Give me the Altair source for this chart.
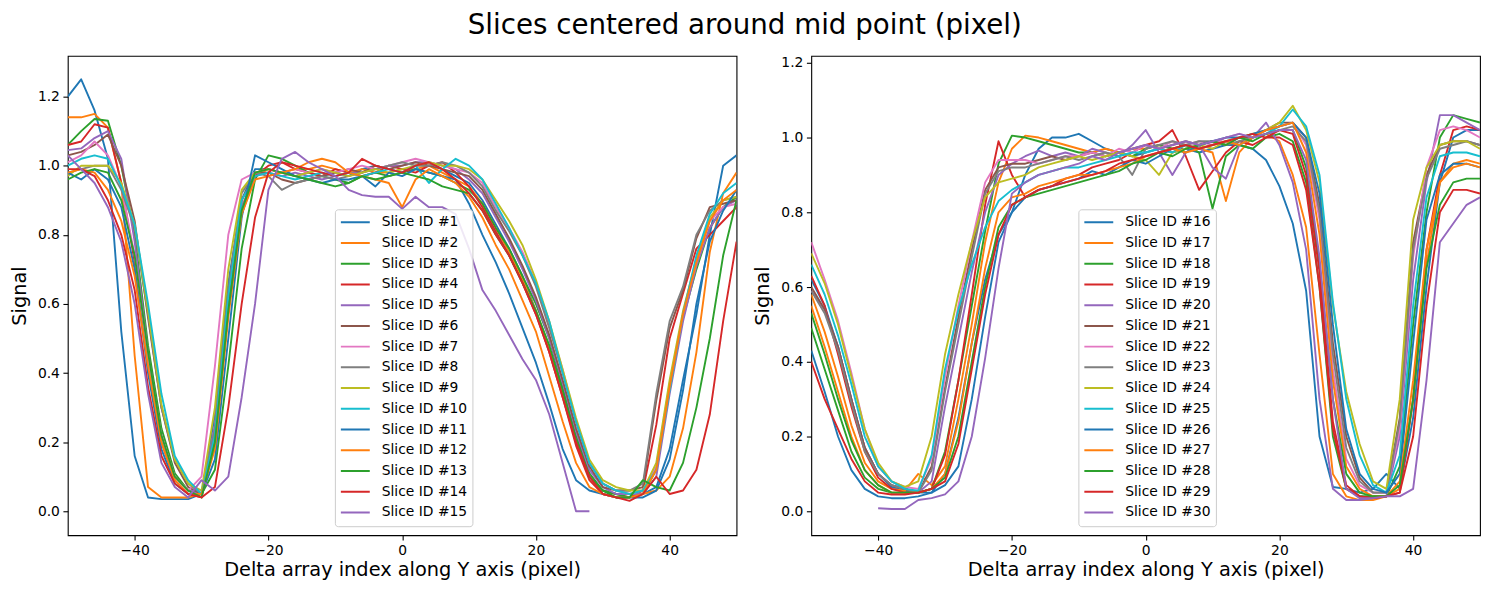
import altair as alt
import pandas as pd

X = [-50, -48, -46, -44, -42, -40, -38, -36, -34, -32,
     -30, -28, -26, -24, -22, -20, -18, -16, -14, -12,
     -10, -8, -6, -4, -2, 0, 2, 4, 6, 8,
     10, 12, 14, 16, 18, 20, 22, 24, 26, 28,
     30, 32, 34, 36, 38, 40, 42, 44, 46, 48, 50]

N = None

# ---- left panel: Slice ID #1 .. #15 ----
S01 = [1.20, 1.25, 1.16, 1.02, 0.52, 0.16, 0.04, 0.035, 0.035, 0.035,
       0.05, 0.28, 0.66, 0.90, 0.99, 0.99, 0.98, 0.97, 0.98, 0.97,
       0.98, 0.97, 0.99, 1.00, 0.99, 0.98, 1.00, 1.01, 0.99, 0.97,
       0.95, 0.90, 0.83, 0.76, 0.68, 0.58, 0.47, 0.34, 0.20, 0.10,
       0.06, 0.05, 0.05, 0.05, 0.07, 0.18, 0.38, 0.57, 0.80, 1.00, 1.03]
S02 = [1.14, 1.14, 1.15, 1.11, 0.95, 0.45, 0.07, 0.04, 0.04, 0.04,
       0.05, 0.22, 0.60, 0.88, 0.97, 0.99, 0.98, 0.99, 0.99, 1.00,
       0.99, 0.98, 0.99, 0.98, 0.98, 0.99, 0.99, 1.00, 0.98, 0.96,
       0.94, 0.89, 0.82, 0.75, 0.67, 0.58, 0.47, 0.34, 0.20, 0.10,
       0.06, 0.05, 0.04, 0.05, 0.06, 0.10, 0.24, 0.46, 0.75, 0.92, 0.98]
S03 = [1.06, 1.10, 1.135, 1.13, 1.00, 0.80, 0.48, 0.24, 0.11, 0.06,
       0.05, 0.12, 0.42, 0.76, 0.96, 1.03, 1.02, 1.00, 0.98, 0.97,
       0.96, 0.95, 0.97, 0.98, 0.97, 0.98, 0.99, 0.98, 0.97, 0.95,
       0.93, 0.89, 0.82, 0.76, 0.68, 0.60, 0.50, 0.36, 0.22, 0.11,
       0.06, 0.05, 0.04, 0.05, 0.12, 0.36, 0.56, 0.70, 0.82, 0.88, 0.91]
S04 = [1.06, 1.07, 1.12, 1.11, 0.95, 0.72, 0.44, 0.20, 0.09, 0.05,
       0.04, 0.20, 0.58, 0.86, 0.97, 1.00, 1.01, 0.99, 0.98, 0.97,
       0.99, 0.98, 0.97, 0.98, 1.00, 0.99, 0.98, 1.00, 1.01, 0.98,
       0.94, 0.88, 0.81, 0.74, 0.66, 0.57, 0.46, 0.33, 0.19, 0.09,
       0.05, 0.04, 0.04, 0.06, 0.25, 0.50, 0.63, 0.76, 0.80, 0.84, 0.88]
S05 = [1.045, 1.05, 1.08, 1.10, 1.02, 0.78, 0.46, 0.22, 0.10, 0.06,
       0.05, 0.25, 0.62, 0.88, 0.97, 0.98, 0.97, 0.98, 0.97, 0.96,
       0.97, 0.98, 0.98, 0.99, 1.00, 1.00, 1.01, 1.01, 1.00, 0.99,
       0.96, 0.92, 0.85, 0.78, 0.70, 0.61, 0.50, 0.37, 0.23, 0.12,
       0.07, 0.05, 0.05, 0.05, 0.10, 0.34, 0.55, 0.71, 0.82, 0.88, 0.90]
S06 = [1.03, 1.04, 1.06, 1.09, 1.00, 0.84, 0.56, 0.30, 0.14, 0.07,
       0.05, 0.22, 0.62, 0.90, 0.98, 0.98, 0.96, 0.95, 0.96, 0.97,
       0.98, 0.99, 0.98, 1.00, 0.99, 1.00, 1.01, 1.00, 0.99, 0.98,
       0.97, 0.93, 0.86, 0.79, 0.71, 0.62, 0.51, 0.38, 0.24, 0.13,
       0.07, 0.06, 0.06, 0.07, 0.32, 0.53, 0.64, 0.79, 0.88, 0.89, 0.90]
S07 = [1.01, 1.03, 1.07, 1.03, 0.94, 0.74, 0.44, 0.22, 0.10, 0.06,
       0.10, 0.42, 0.80, 0.96, 0.98, 0.99, 0.98, 0.99, 0.98, 0.99,
       0.98, 0.99, 1.00, 0.99, 1.00, 1.01, 1.02, 1.01, 1.00, 0.99,
       0.98, 0.95, 0.88, 0.82, 0.75, 0.66, 0.54, 0.41, 0.26, 0.14,
       0.08, 0.06, 0.05, 0.06, 0.13, 0.37, 0.57, 0.72, 0.84, 0.88, 0.89]
S08 = [0.98, 0.99, 1.00, 1.00, 0.93, 0.82, 0.57, 0.30, 0.15, 0.08,
       0.05, 0.24, 0.64, 0.92, 0.98, 0.97, 0.93, 0.95, 0.96, 0.97,
       0.96, 0.97, 0.98, 0.99, 1.00, 1.01, 1.00, 1.00, 1.01, 1.00,
       0.98, 0.94, 0.87, 0.81, 0.74, 0.65, 0.53, 0.40, 0.26, 0.14,
       0.08, 0.06, 0.06, 0.08, 0.34, 0.55, 0.65, 0.80, 0.87, 0.90, 0.91]
S09 = [0.97, 1.00, 1.00, 1.00, 0.95, 0.83, 0.58, 0.31, 0.15, 0.08,
       0.06, 0.30, 0.70, 0.93, 0.98, 0.99, 0.98, 0.97, 0.98, 0.99,
       0.98, 0.97, 0.98, 0.99, 0.98, 0.99, 1.00, 1.01, 1.00, 1.00,
       0.99, 0.96, 0.90, 0.84, 0.77, 0.67, 0.55, 0.41, 0.27, 0.15,
       0.09, 0.07, 0.06, 0.06, 0.14, 0.38, 0.58, 0.73, 0.85, 0.90, 0.91]
S10 = [1.00, 1.02, 1.03, 1.02, 0.94, 0.83, 0.60, 0.34, 0.16, 0.09,
       0.05, 0.22, 0.62, 0.90, 0.97, 0.98, 0.97, 0.96, 0.97, 0.98,
       0.97, 0.98, 0.97, 0.98, 0.99, 0.98, 1.00, 0.95, 0.99, 1.02,
       1.00, 0.96, 0.89, 0.82, 0.74, 0.66, 0.55, 0.40, 0.26, 0.14,
       0.08, 0.06, 0.05, 0.06, 0.12, 0.35, 0.57, 0.74, 0.86, 0.92, 0.95]
S11 = [0.98, 0.96, 0.99, 0.96, 0.88, 0.70, 0.40, 0.18, 0.08, 0.05,
       0.05, 0.15, 0.50, 0.85, 1.03, 1.01, 0.99, 0.97, 0.96, 0.95,
       0.96, 0.96, 0.97, 0.94, 0.98, 0.97, 0.99, 0.98, 0.97, 0.96,
       0.89, 0.80, 0.72, 0.63, 0.53, 0.43, 0.31, 0.18, 0.09, 0.06,
       0.05, 0.04, 0.04, 0.04, 0.06, 0.15, 0.35, 0.60, 0.78, 0.87, 0.93]
S12 = [0.98, 0.99, 0.98, 0.93, 0.84, 0.68, 0.42, 0.20, 0.09, 0.05,
       0.05, 0.18, 0.56, 0.86, 0.96, 0.97, 0.98, 0.99, 1.01, 1.02,
       1.01, 0.98, 0.97, 0.96, 0.95, 0.88, 0.96, 0.99, 0.97, 0.95,
       0.91, 0.85, 0.77, 0.70, 0.61, 0.52, 0.39, 0.26, 0.14, 0.07,
       0.05, 0.04, 0.04, 0.05, 0.12, 0.36, 0.57, 0.72, 0.84, 0.90, 0.93]
S13 = [0.96, 0.98, 0.99, 0.98, 0.90, 0.74, 0.46, 0.22, 0.10, 0.06,
       0.04, 0.20, 0.58, 0.87, 0.98, 0.99, 0.98, 0.97, 0.96, 0.95,
       0.94, 0.95, 0.97, 0.96, 0.97, 0.98, 0.97, 0.96, 0.94, 0.93,
       0.92, 0.87, 0.80, 0.74, 0.66, 0.58, 0.48, 0.35, 0.21, 0.10,
       0.06, 0.04, 0.04, 0.09, 0.07, 0.06, 0.14, 0.30, 0.50, 0.74, 0.90]
S14 = [0.99, 0.99, 0.97, 0.90, 0.80, 0.64, 0.36, 0.16, 0.08, 0.05,
       0.04, 0.07, 0.30, 0.60, 0.85, 0.98, 1.01, 1.00, 0.99, 0.98,
       0.97, 0.98, 1.02, 1.00, 0.99, 0.98, 1.00, 1.01, 0.99, 0.96,
       0.92, 0.87, 0.80, 0.74, 0.66, 0.57, 0.46, 0.33, 0.20, 0.10,
       0.05, 0.04, 0.03, 0.05, 0.10, 0.05, 0.06, 0.12, 0.28, 0.55, 0.78]
S15 = [1.03, 0.99, 0.95, 0.88, 0.78, 0.60, 0.34, 0.14, 0.07, 0.04,
       0.09, 0.06, 0.10, 0.33, 0.60, 0.93, 1.02, 1.04, 1.01, 0.99,
       0.97, 0.93, 0.915, 0.91, 0.91, 0.875, 0.91, 0.88, 0.88, 0.86,
       0.76, 0.64, 0.58, 0.51, 0.44, 0.38, 0.28, 0.14, 0.00, 0.00,
       N, N, N, N, N, N, N, N, N, N, N]

# ---- right panel: Slice ID #16 .. #30 ----
S16 = [0.62, 0.55, 0.44, 0.30, 0.17, 0.10, 0.065, 0.055, 0.05, 0.05,
       0.07, 0.12, 0.30, 0.52, 0.72, 0.80, 0.90, 0.97, 1.00, 1.00,
       1.01, 0.99, 0.97, 0.96, 0.95, 0.96, 0.97, 0.96, 0.97, 0.96,
       0.97, 0.98, 0.98, 0.97, 0.94, 0.87, 0.77, 0.59, 0.20, 0.065,
       0.06, 0.05, 0.06, 0.10, 0.06, 0.25, 0.60, 0.88, 1.00, 1.02, 1.02]
S17 = [0.58, 0.48, 0.36, 0.23, 0.13, 0.08, 0.06, 0.055, 0.10, 0.07,
       0.12, 0.30, 0.50, 0.72, 0.88, 0.97, 1.005, 1.00, 0.99, 0.98,
       0.97, 0.96, 0.97, 0.96, 0.97, 0.97, 0.98, 0.97, 0.98, 0.97,
       0.96, 0.83, 0.96, 1.00, 1.01, 0.99, 0.90, 0.76, 0.42, 0.10,
       0.04, 0.03, 0.03, 0.04, 0.06, 0.30, 0.66, 0.88, 0.93, 0.94, 0.93]
S18 = [0.49, 0.38, 0.27, 0.16, 0.09, 0.06, 0.05, 0.05, 0.05, 0.06,
       0.16, 0.35, 0.55, 0.75, 0.93, 1.005, 1.00, 0.99, 0.98, 0.97,
       0.96, 0.96, 0.95, 0.96, 0.95, 0.97, 0.98, 0.97, 0.98, 0.96,
       0.81, 0.95, 0.98, 0.97, 1.00, 1.01, 0.99, 0.88, 0.60, 0.20,
       0.06, 0.04, 0.04, 0.04, 0.12, 0.50, 0.80, 1.00, 1.06, 1.05, 1.04]
S19 = [0.63, 0.55, 0.42, 0.28, 0.16, 0.09, 0.06, 0.05, 0.05, 0.06,
       0.15, 0.35, 0.58, 0.82, 0.99, 0.90, 0.84, 0.86, 0.87, 0.89,
       0.90, 0.92, 0.93, 0.94, 0.96, 0.98, 0.99, 1.02, 0.95, 0.86,
       0.91, 0.96, 0.99, 0.98, 1.00, 1.00, 0.98, 0.86, 0.60, 0.22,
       0.06, 0.04, 0.035, 0.04, 0.05, 0.30, 0.70, 0.90, 1.02, 1.03, 1.02]
S20 = [0.59, 0.54, 0.44, 0.30, 0.17, 0.10, 0.07, 0.06, 0.05, 0.08,
       0.28, 0.46, 0.64, 0.80, 0.90, 0.93, 0.95, 0.965, 0.95, 0.96,
       0.95, 0.97, 0.96, 0.95, 0.98, 1.02, 0.96, 0.90, 0.96, 0.98,
       0.92, 0.89, 0.98, 1.00, 1.04, 0.98, 0.88, 0.70, 0.30, 0.06,
       0.03, 0.03, 0.035, 0.04, 0.20, 0.62, 0.88, 1.06, 1.06, 1.04, 1.02]
S21 = [0.60, 0.54, 0.44, 0.30, 0.17, 0.10, 0.07, 0.06, 0.05, 0.12,
       0.33, 0.52, 0.70, 0.86, 0.92, 0.93, 0.93, 0.94, 0.95, 0.94,
       0.95, 0.96, 0.95, 0.96, 0.97, 0.98, 0.97, 0.98, 0.99, 0.98,
       0.99, 0.98, 1.00, 1.00, 1.02, 1.04, 1.04, 1.00, 0.82, 0.45,
       0.20, 0.09, 0.05, 0.05, 0.25, 0.72, 0.90, 0.98, 0.99, 0.99, 0.98]
S22 = [0.72, 0.62, 0.51, 0.37, 0.22, 0.12, 0.08, 0.065, 0.06, 0.14,
       0.36, 0.55, 0.72, 0.88, 0.94, 0.94, 0.94, 0.93, 0.94, 0.95,
       0.95, 0.96, 0.95, 0.97, 0.96, 0.98, 0.97, 0.99, 0.98, 0.99,
       0.98, 1.00, 1.01, 1.00, 1.02, 1.03, 1.04, 0.98, 0.78, 0.38,
       0.14, 0.07, 0.05, 0.05, 0.22, 0.68, 0.92, 1.02, 1.03, 1.02, 1.00]
S23 = [0.59, 0.53, 0.43, 0.29, 0.16, 0.10, 0.07, 0.06, 0.05, 0.11,
       0.32, 0.50, 0.68, 0.85, 0.91, 0.92, 0.92, 0.93, 0.94, 0.95,
       0.94, 0.95, 0.96, 0.95, 0.90, 0.97, 0.98, 0.99, 0.98, 0.99,
       0.99, 0.98, 0.99, 1.00, 1.01, 1.02, 1.03, 0.99, 0.80, 0.42,
       0.17, 0.08, 0.05, 0.05, 0.24, 0.70, 0.89, 0.97, 0.98, 0.99, 0.98]
S24 = [0.69, 0.61, 0.50, 0.36, 0.22, 0.13, 0.08, 0.065, 0.08, 0.20,
       0.42, 0.58, 0.72, 0.84, 0.88, 0.89, 0.90, 0.92, 0.93, 0.94,
       0.95, 0.94, 0.95, 0.96, 0.95, 0.94, 0.90, 0.96, 0.97, 0.98,
       0.97, 0.99, 1.00, 1.01, 1.02, 1.04, 1.085, 1.02, 0.88, 0.55,
       0.32, 0.18, 0.08, 0.06, 0.30, 0.78, 0.92, 0.98, 0.99, 0.99, 0.97]
S25 = [0.66, 0.58, 0.47, 0.34, 0.20, 0.12, 0.08, 0.06, 0.055, 0.15,
       0.38, 0.54, 0.66, 0.76, 0.83, 0.86, 0.88, 0.90, 0.91, 0.92,
       0.92, 0.93, 0.94, 0.95, 0.96, 0.96, 0.97, 0.96, 0.98, 0.97,
       0.98, 0.99, 0.98, 1.00, 1.01, 1.03, 1.075, 1.03, 0.90, 0.56,
       0.30, 0.15, 0.07, 0.05, 0.15, 0.55, 0.84, 0.95, 0.96, 0.96, 0.95]
S26 = [0.43, 0.32, 0.20, 0.11, 0.06, 0.04, 0.035, 0.035, 0.04, 0.05,
       0.10, 0.25, 0.45, 0.62, 0.74, 0.80, 0.84, 0.86, 0.87, 0.88,
       0.89, 0.91, 0.90, 0.92, 0.94, 0.93, 0.95, 0.97, 0.96, 0.98,
       0.99, 1.00, 1.00, 1.01, 1.02, 1.03, 1.04, 1.00, 0.85, 0.50,
       0.22, 0.10, 0.06, 0.05, 0.10, 0.45, 0.78, 0.90, 0.93, 0.93, 0.92]
S27 = [0.55, 0.44, 0.32, 0.20, 0.11, 0.07, 0.05, 0.05, 0.05, 0.06,
       0.10, 0.24, 0.45, 0.65, 0.80, 0.84, 0.85, 0.87, 0.88, 0.89,
       0.90, 0.90, 0.91, 0.92, 0.93, 0.95, 0.96, 0.97, 0.96, 0.97,
       0.98, 0.99, 0.98, 1.00, 1.02, 1.03, 1.04, 0.96, 0.74, 0.35,
       0.12, 0.06, 0.04, 0.04, 0.08, 0.35, 0.70, 0.88, 0.92, 0.93, 0.92]
S28 = [0.53, 0.42, 0.30, 0.19, 0.11, 0.07, 0.05, 0.05, 0.05, 0.06,
       0.09, 0.20, 0.40, 0.60, 0.76, 0.82, 0.84, 0.85, 0.86, 0.87,
       0.88, 0.89, 0.90, 0.91, 0.93, 0.94, 0.96, 0.95, 0.97, 0.98,
       0.99, 0.98, 1.00, 0.99, 1.01, 1.02, 1.02, 0.92, 0.66, 0.30,
       0.10, 0.05, 0.04, 0.04, 0.07, 0.30, 0.65, 0.82, 0.88, 0.89, 0.89]
S29 = [0.40, 0.30, 0.22, 0.14, 0.08, 0.05, 0.045, 0.045, 0.05, 0.06,
       0.08, 0.18, 0.38, 0.58, 0.74, 0.82, 0.84, 0.86, 0.87, 0.88,
       0.89, 0.90, 0.91, 0.93, 0.94, 0.95, 0.96, 0.97, 0.98, 0.97,
       0.98, 0.99, 1.00, 1.01, 1.00, 1.02, 1.01, 0.90, 0.64, 0.24,
       0.07, 0.04, 0.035, 0.04, 0.05, 0.20, 0.55, 0.80, 0.86, 0.86, 0.85]
S30 = [N, N, N, N, N, 0.008, 0.006, 0.006, 0.03, 0.035,
       0.045, 0.08, 0.20, 0.41, 0.65, 0.85, 0.88, 0.90, 0.91, 0.92,
       0.93, 0.95, 0.94, 0.96, 0.97, 0.98, 0.97, 0.98, 0.99, 0.98,
       0.99, 1.00, 1.01, 1.00, 1.01, 1.02, 1.02, 0.94, 0.68, 0.30,
       0.06, 0.035, 0.035, 0.04, 0.04, 0.06, 0.35, 0.72, 0.77, 0.82, 0.84]

LEFT_IDS = [1, 2, 3, 4, 5, 6, 7, 8, 9, 10, 11, 12, 13, 14, 15]
RIGHT_IDS = [16, 17, 18, 19, 20, 21, 22, 23, 24, 25, 26, 27, 28, 29, 30]
LEFT_SERIES = [S01, S02, S03, S04, S05, S06, S07, S08, S09, S10, S11, S12, S13, S14, S15]
RIGHT_SERIES = [S16, S17, S18, S19, S20, S21, S22, S23, S24, S25, S26, S27, S28, S29, S30]

TAB10 = ["#1f77b4", "#ff7f0e", "#2ca02c", "#d62728", "#9467bd",
         "#8c564b", "#e377c2", "#7f7f7f", "#bcbd22", "#17becf"]
COLORS15 = TAB10 + TAB10[:5]

X_TICKS = [-40, -20, 0, 20, 40]
Y_TICKS = [0.0, 0.2, 0.4, 0.6, 0.8, 1.0, 1.2]
FONT = "DejaVu Sans"


def frame(ids, series):
    rows = []
    for sid, ys in zip(ids, series):
        for x, y in zip(X, ys):
            if y is not None:
                rows.append({"x": x, "y": y, "slice": f"Slice ID #{sid}", "k": sid})
    return pd.DataFrame(rows)


def panel(ids, series, ydom):
    labels = [f"Slice ID #{i}" for i in ids]
    return alt.Chart(frame(ids, series)).mark_line(
        strokeWidth=1.9, clip=True, strokeJoin="round"
    ).encode(
        x=alt.X("x:Q",
                scale=alt.Scale(domain=[-50, 50], nice=False, zero=False),
                axis=alt.Axis(values=X_TICKS, title="Delta array index along Y axis (pixel)",
                              titlePadding=3)),
        y=alt.Y("y:Q",
                scale=alt.Scale(domain=ydom, nice=False, zero=False),
                axis=alt.Axis(values=Y_TICKS, format=".1f", title="Signal", titlePadding=8)),
        color=alt.Color("slice:N",
                        scale=alt.Scale(domain=labels, range=COLORS15),
                        legend=alt.Legend(orient="none", legendX=268, legendY=154, title=None,
                                          symbolType="stroke", symbolSize=841,
                                          symbolStrokeWidth=2, clipHeight=16, rowPadding=4.8,
                                          labelFontSize=13.9, labelFont=FONT, labelColor="black",
                                          labelOffset=11, padding=5,
                                          fillColor="rgba(255,255,255,0.85)",
                                          strokeColor="#cccccc", cornerRadius=3)),
        order=alt.Order("k:Q"),
    ).properties(width=671, height=481)


left = panel(LEFT_IDS, LEFT_SERIES, [-0.0692, 1.318])
right = panel(RIGHT_IDS, RIGHT_SERIES, [-0.064, 1.2187])

chart = alt.hconcat(left, right, spacing=14).resolve_scale(color="independent").properties(
    padding={"top": 2, "left": 0, "right": 0, "bottom": 0},
    background="white",
    title=alt.TitleParams("Slices centered around mid point (pixel)", fontSize=27.8,
                          font=FONT, fontWeight="normal", anchor="middle", offset=16,
                          color="black"),
).configure_view(stroke="black", strokeWidth=1.1).configure_axis(
    labelFont=FONT, labelFontSize=13.9, labelColor="black", labelPadding=3.5,
    titleFont=FONT, titleFontSize=19.4, titleFontWeight="normal", titleColor="black",
    tickColor="black", tickSize=4.9, tickWidth=1.1, domain=False, grid=False,
)

chart.save("out.html", embed_options={"renderer": "svg", "actions": False})
